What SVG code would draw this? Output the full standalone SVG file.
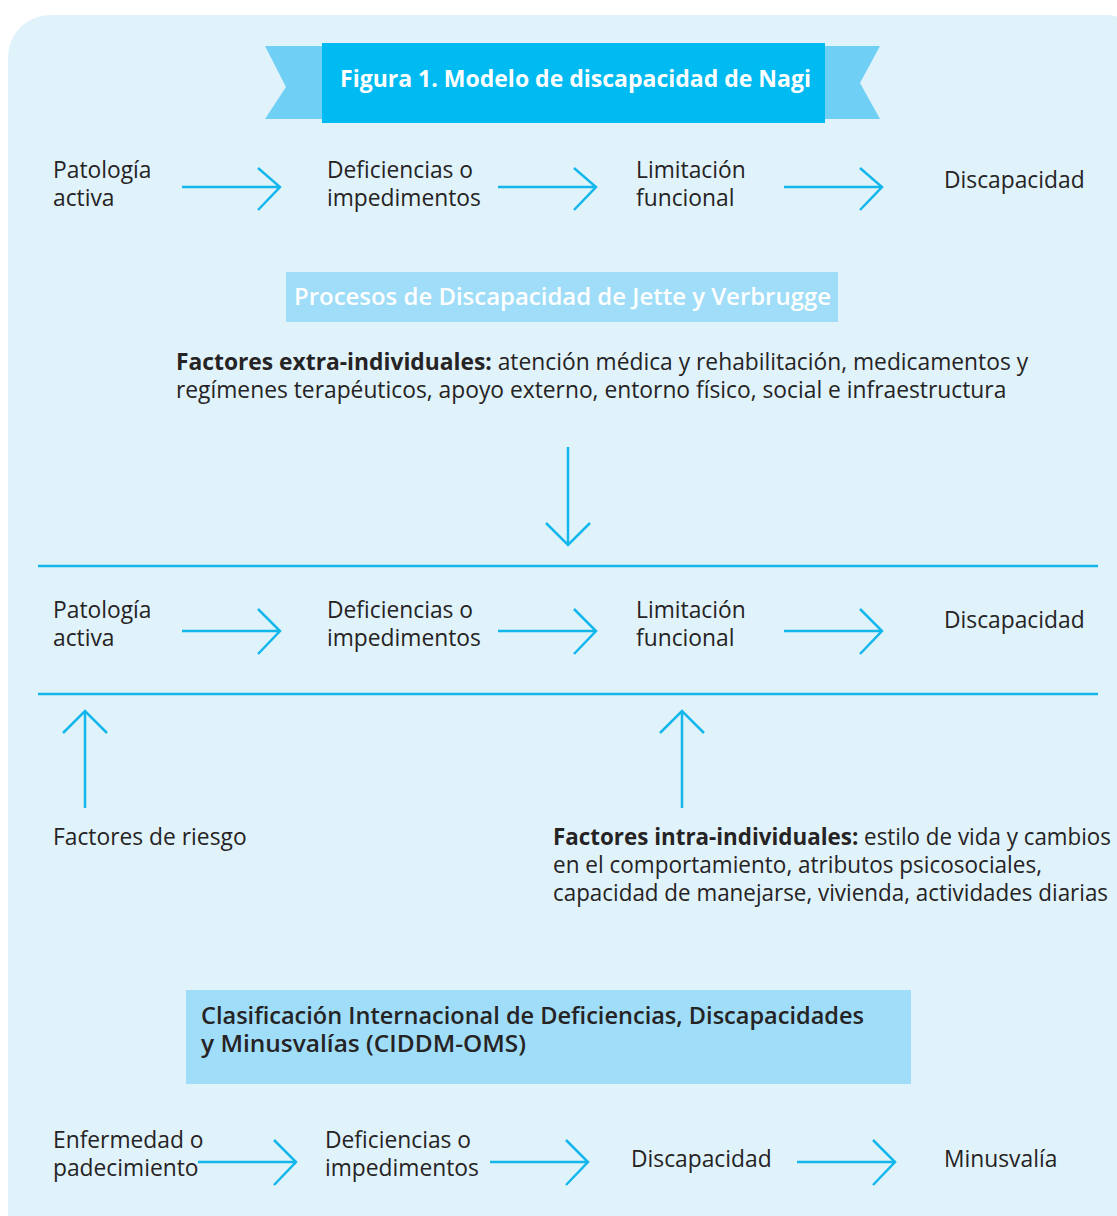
<svg xmlns="http://www.w3.org/2000/svg" width="1117" height="1216" viewBox="0 0 1117 1216">
<style>
.t{font-family:"Open Sans","Noto Sans",sans-serif;font-size:22.8px;fill:#262324}
.b{font-weight:bold}
.w{fill:#ffffff}
.ar{fill:none;stroke:#13b7ec;stroke-width:2.5;stroke-linecap:butt}
.hl{stroke:#13b7ec;stroke-width:2.5}
</style>
<rect x="8" y="15" width="1140" height="1240" rx="42" fill="#e0f3fb"/>
<g id="banner">
<polygon points="265,46 322,46 322,119 265,119 286,87" fill="#6fcff5"/>
<polygon points="880,46 825,46 825,119 880,119 860,83" fill="#6fcff5"/>
<rect x="322" y="43" width="503" height="80" fill="#00baf2"/>
<text class="t b w" x="340" y="87" textLength="471" lengthAdjust="spacingAndGlyphs">Figura 1. Modelo de discapacidad de Nagi</text>
</g>
<g id="n1-pat"><text class="t" x="53" y="178">Patología</text><text class="t" x="53" y="206">activa</text></g>
<g id="n1-def"><text class="t" x="327" y="178">Deficiencias o</text><text class="t" x="327" y="206">impedimentos</text></g>
<g id="n1-lim"><text class="t" x="636" y="178">Limitación</text><text class="t" x="636" y="206">funcional</text></g>
<g id="n1-dis"><text class="t" x="944" y="188">Discapacidad</text></g>
<g id="jette">
<rect x="286" y="272" width="552" height="50" fill="#9fddf8"/>
<text class="t w" x="294" y="305" font-weight="600" textLength="537" lengthAdjust="spacingAndGlyphs">Procesos de Discapacidad de Jette y Verbrugge</text>
</g>
<g id="extra">
<text class="t" x="176" y="370"><tspan class="b">Factores extra-individuales:</tspan> atención médica y rehabilitación, medicamentos y</text>
<text class="t" x="176" y="398">regímenes terapéuticos, apoyo externo, entorno físico, social e infraestructura</text>
</g>
<g id="n2-pat"><text class="t" x="53" y="618">Patología</text><text class="t" x="53" y="646">activa</text></g>
<g id="n2-def"><text class="t" x="327" y="618">Deficiencias o</text><text class="t" x="327" y="646">impedimentos</text></g>
<g id="n2-lim"><text class="t" x="636" y="618">Limitación</text><text class="t" x="636" y="646">funcional</text></g>
<g id="n2-dis"><text class="t" x="944" y="628">Discapacidad</text></g>
<g id="riesgo"><text class="t" x="53" y="845">Factores de riesgo</text></g>
<g id="intra">
<text class="t" x="553" y="845" textLength="558" lengthAdjust="spacingAndGlyphs"><tspan class="b">Factores intra-individuales:</tspan> estilo de vida y cambios</text>
<text class="t" x="553" y="873" textLength="489" lengthAdjust="spacingAndGlyphs">en el comportamiento, atributos psicosociales,</text>
<text class="t" x="553" y="901" textLength="555" lengthAdjust="spacingAndGlyphs">capacidad de manejarse, vivienda, actividades diarias</text>
</g>
<g id="ciddm">
<rect x="186" y="990" width="725" height="94" fill="#9fddf8"/>
<text class="t" x="201" y="1024" font-weight="600" textLength="663" lengthAdjust="spacingAndGlyphs">Clasificación Internacional de Deficiencias, Discapacidades</text>
<text class="t" x="201" y="1052" font-weight="600" textLength="325" lengthAdjust="spacingAndGlyphs">y Minusvalías (CIDDM-OMS)</text>
</g>
<g id="n3-enf"><text class="t" x="53" y="1148">Enfermedad o</text><text class="t" x="53" y="1176">padecimiento</text></g>
<g id="n3-def"><text class="t" x="325" y="1148">Deficiencias o</text><text class="t" x="325" y="1176">impedimentos</text></g>
<g id="n3-dis"><text class="t" x="631" y="1167">Discapacidad</text></g>
<g id="n3-min"><text class="t" x="944" y="1167">Minusvalía</text></g>
<g id="connectors">
<path class="ar" d="M182,187H280M258,168L280,187L258,210"/>
<path class="ar" d="M498,187H596M574,168L596,187L574,210"/>
<path class="ar" d="M784,187H882M860,168L882,187L860,210"/>
<path class="ar" d="M568,447V545M546,523L568,545L590,523"/>
<line class="hl" x1="38" y1="566" x2="1098" y2="566"/>
<line class="hl" x1="38" y1="694" x2="1098" y2="694"/>
<path class="ar" d="M182,631H280M258,609L280,631L258,654"/>
<path class="ar" d="M498,631H596M574,609L596,631L574,654"/>
<path class="ar" d="M784,631H882M860,609L882,631L860,654"/>
<path class="ar" d="M85,808V711M63,733L85,711L107,733"/>
<path class="ar" d="M682,808V711M660,733L682,711L704,733"/>
<path class="ar" d="M198,1162H296M274,1140L296,1162L274,1185"/>
<path class="ar" d="M490,1162H588M566,1140L588,1162L566,1185"/>
<path class="ar" d="M797,1162H895M873,1140L895,1162L873,1185"/>
</g>
</svg>
